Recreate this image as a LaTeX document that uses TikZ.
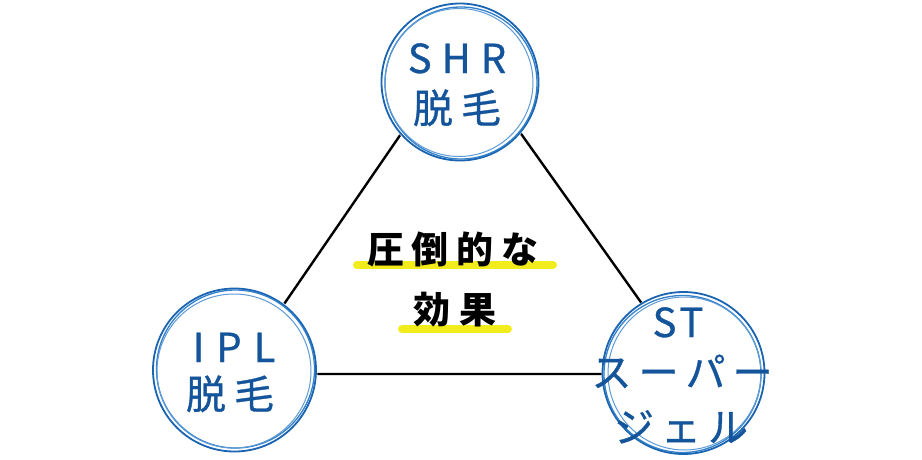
\documentclass[tikz,border=0pt]{standalone}
\usepackage{fontspec}
\newfontfamily\jpc{Noto Sans CJK JP}
\newfontfamily\jpm[FakeBold=0.8]{Noto Sans CJK JP}
\definecolor{cblue}{RGB}{20,84,154}
\definecolor{ringa}{RGB}{26,100,178}
\definecolor{ringb}{RGB}{50,128,200}
\definecolor{ringc}{RGB}{95,155,215}
\definecolor{hl}{RGB}{242,236,28}
\tikzset{
  bigcirc/.style={circle, fill=white, inner sep=0pt},
  ringone/.style={draw=ringa, line width=1.8pt},
  ringtwo/.style={draw=ringb, line width=1.3pt},
  ringthree/.style={draw=ringc, line width=1.0pt},
  bluetxt/.style={anchor=base, inner sep=0pt, text=cblue, font=\jpm\fontsize{40}{48}\selectfont},
  blacktxt/.style={anchor=base, inner sep=0pt, text=black, font=\jpc\bfseries\fontsize{37}{44}\selectfont},
  hlline/.style={draw=hl, line width=8pt, line cap=round},
  triline/.style={draw=black, line width=2.4pt}
}
\begin{document}
\begin{tikzpicture}[x=1pt,y=-1pt]
\useasboundingbox (0,0) rectangle (922,459);
% triangle
\coordinate (A) at (460,48);
\coordinate (B) at (236,374);
\coordinate (C) at (692,374);
\draw[triline] (A) -- (B) -- (C) -- cycle;
% circles
\node[bigcirc, minimum size=160pt] (shr) at (460,82) {};
\node[bigcirc, minimum size=166pt] (ipl) at (234.5,370) {};
\node[bigcirc, minimum size=164pt] (st) at (683.5,373) {};
% rings SHR
\draw[ringone] (shr.center) circle[radius=78.5];
\draw[ringtwo] ([shift={(1,1)}]shr.center) circle[radius=76];
\draw[ringthree] ([shift={(-1,0.5)}]shr.center) circle[radius=74];
% rings IPL
\draw[ringone] (ipl.center) circle[radius=81.5];
\draw[ringtwo] ([shift={(1,-1)}]ipl.center) circle[radius=79];
\draw[ringthree] ([shift={(-0.5,1)}]ipl.center) circle[radius=77];
% rings ST
\draw[ringone] (st.center) circle[radius=81];
\draw[ringtwo] ([shift={(-1,1)}]st.center) circle[radius=78.5];
\draw[ringthree] ([shift={(1,0.5)}]st.center) circle[radius=76.5];
% SHR text
\node[bluetxt] (shr1) at (457,73) {S\hspace{10pt}H\hspace{10pt}R};
\node[bluetxt] (shr2) at (457,123) {脱\hspace{8pt}毛};
% IPL text
\node[bluetxt] (ipl1) at (234,362) {I\hspace{12pt}P\hspace{12pt}L};
\node[bluetxt] (ipl2) at (230,409) {脱\hspace{8pt}毛};
% ST text
\node[bluetxt] (st1) at (678,337) {S\hspace{3pt}T};
\node[bluetxt] (st2) at (682,387) {ス\hspace{7pt}ー\hspace{7pt}パ\hspace{7pt}ー};
\node[bluetxt] (st3) at (681,442) {ジ\hspace{7pt}ェ\hspace{7pt}ル};
% center highlights
\coordinate (h1a) at (357,265);
\coordinate (h1b) at (553,265);
\coordinate (h2a) at (402,329);
\coordinate (h2b) at (508,329);
\draw[hlline] (h1a) -- (h1b);
\draw[hlline] (h2a) -- (h2b);
% center text
\node[blacktxt] (c1) at (453,263) {圧\hspace{8pt}倒\hspace{8pt}的\hspace{8pt}な};
\node[blacktxt] (c2) at (455,323) {効\hspace{10pt}果};
\end{tikzpicture}
\end{document}
